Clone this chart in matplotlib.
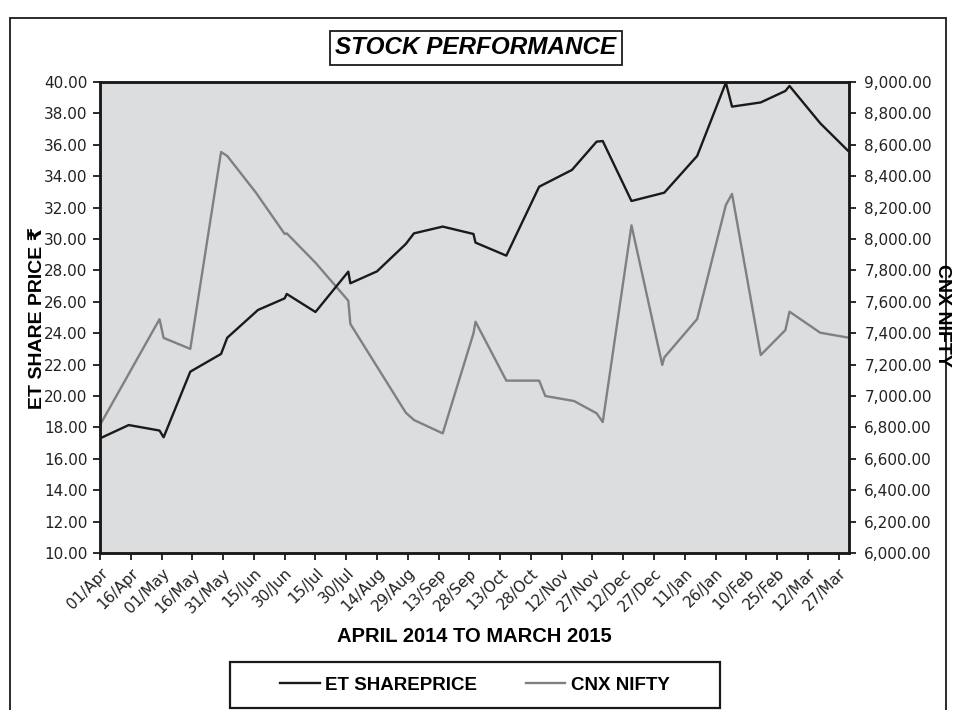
import matplotlib
matplotlib.use("Agg")
import matplotlib.pyplot as plt
from matplotlib.patches import Rectangle

# days counted from 01/Apr/2014
et_days = [0, 14, 29, 31, 44, 59, 62, 77, 90, 91, 105, 121, 122, 135, 149, 153,
           167, 182, 183, 198, 214, 230, 242, 245, 259, 275, 291, 305, 308, 322,
           334, 336, 351, 365]
et_price = [17.30, 18.15, 17.80, 17.37, 21.55, 22.68, 23.71, 25.48, 26.22, 26.50,
            25.35, 27.92, 27.18, 27.94, 29.68, 30.36, 30.79, 30.32, 29.77, 28.94,
            33.33, 34.40, 36.20, 36.24, 32.42, 32.95, 35.29, 39.96, 38.43, 38.70,
            39.43, 39.75, 37.37, 35.56]

nifty_days = [0, 29, 31, 44, 59, 62, 76, 90, 91, 105, 121, 122, 149, 153, 167, 182,
              183, 198, 214, 217, 231, 242, 245, 259, 274, 275, 291, 305, 308, 322,
              334, 336, 351, 365]
nifty = [6815, 7489, 7370, 7300, 8554, 8529, 8295, 8032, 8036, 7849, 7607, 7459,
         6894, 6847, 6762, 7399, 7473, 7098, 7098, 7000, 6968, 6890, 6834, 8087,
         7198, 7246, 7490, 8217, 8287, 7261, 7420, 7537, 7403, 7371]

tick_labels = ["01/Apr", "16/Apr", "01/May", "16/May", "31/May", "15/Jun", "30/Jun",
               "15/Jul", "30/Jul", "14/Aug", "29/Aug", "13/Sep", "28/Sep", "13/Oct",
               "28/Oct", "12/Nov", "27/Nov", "12/Dec", "27/Dec", "11/Jan", "26/Jan",
               "10/Feb", "25/Feb", "12/Mar", "27/Mar"]
tick_days = [15 * i for i in range(len(tick_labels))]

plt.rcParams["font.family"] = ["DejaVu Sans"]
bold_font = ["Liberation Sans", "DejaVu Sans"]

fig = plt.figure(figsize=(9.56, 7.10), dpi=100)
ax = fig.add_axes([100 / 956, 1 - 553 / 710, 749 / 956, 471 / 710])
ax2 = ax.twinx()

ax2.plot(nifty_days, nifty, color="#808080", lw=1.7, label="CNX NIFTY")
ax.plot(et_days, et_price, color="#1a1a1a", lw=1.7, label="ET SHAREPRICE")
ax.set_zorder(ax2.get_zorder() + 1)
ax.patch.set_visible(False)
ax2.patch.set_visible(True)
ax2.patch.set_facecolor("#dcdddf")

ax.set_xlim(0, 365)
ax.set_ylim(10, 40)
ax2.set_ylim(6000, 9000)
ax.set_yticks([10 + 2 * i for i in range(16)])
ax.set_yticklabels([f"{10 + 2 * i:.2f}" for i in range(16)])
ax2.set_yticks([6000 + 200 * i for i in range(16)])
ax2.set_yticklabels([f"{6000 + 200 * i:,.2f}" for i in range(16)])
ax.set_xticks(tick_days)
ax.set_xticklabels(tick_labels, rotation=45, ha="right", rotation_mode="anchor")

for a in (ax, ax2):
    for s in a.spines.values():
        s.set_linewidth(1.8)
        s.set_color("#1a1a1a")
    a.tick_params(labelsize=11, length=5, width=1.3, colors="#1a1a1a",
                  labelcolor="#222222", pad=4)
ax2.tick_params(pad=6)

ax.set_xlabel("APRIL 2014 TO MARCH 2015", family=bold_font, fontweight="bold",
              fontsize=14.5, labelpad=8)
fig.text(38 / 956, 1 - 318 / 710, "ET SHARE PRICE ₹", rotation=90, ha="center",
         va="center", family=bold_font, fontweight="bold", fontsize=14)
fig.text(943 / 956, 1 - 315 / 710, "CNX NIFTY", rotation=-90, ha="center",
         va="center", family=bold_font, fontweight="bold", fontsize=14)

fig.text(476 / 956, 1 - 48 / 710, "STOCK PERFORMANCE", ha="center", va="center",
         family=bold_font, fontweight="bold", style="italic", fontsize=17.5,
         bbox=dict(boxstyle="square,pad=0.22", fc="white", ec="#1a1a1a", lw=1.3))

lines = [ax.get_lines()[0], ax2.get_lines()[0]]
leg = fig.legend(lines, [l.get_label() for l in lines], ncol=2,
                 loc="center", bbox_to_anchor=(475 / 956, 1 - 685 / 710),
                 prop=dict(family=bold_font, weight="bold", size=13.5),
                 frameon=False, handlelength=2.1,
                 handletextpad=0.3, columnspacing=2.6, borderaxespad=0)
for h in leg.get_lines():
    h.set_linewidth(1.7)

# legend frame and outer chart border
fig.patches.append(Rectangle((230 / 956, 1 - 708 / 710), 490 / 956, 46 / 710,
                             transform=fig.transFigure, fill=False,
                             ec="#1a1a1a", lw=1.6))
fig.patches.append(Rectangle((10 / 956, -0.01), 936 / 956, 1 - 18 / 710 + 0.01,
                             transform=fig.transFigure, fill=False,
                             ec="#1a1a1a", lw=1.3))

fig.savefig("out.png", dpi=100)
